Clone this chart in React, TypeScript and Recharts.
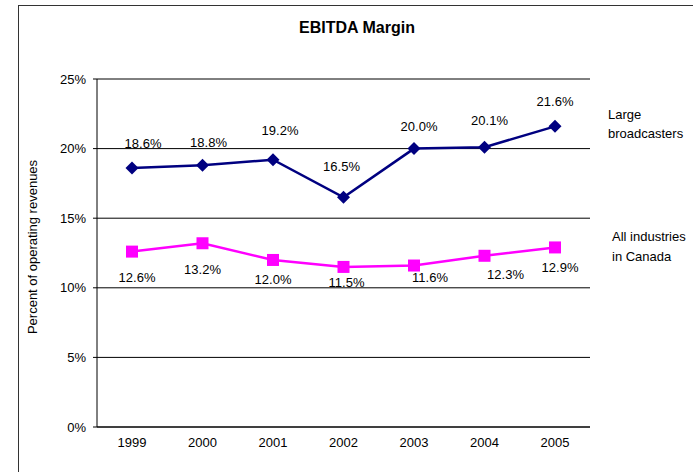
import React from 'react';
import { LineChart, Line, XAxis, YAxis, CartesianGrid, LabelList } from 'recharts';

const years = ['1999', '2000', '2001', '2002', '2003', '2004', '2005'];
const largeBroadcasters = [18.6, 18.8, 19.2, 16.5, 20.0, 20.1, 21.6];
const allIndustries = [12.6, 13.2, 12.0, 11.5, 11.6, 12.3, 12.9];
const yTicks = [0, 5, 10, 15, 20, 25];
const categoryEdges = [0, 1, 2, 3, 4, 5, 6, 7];

// hand-placed data label nudges (px), like the original chart
const largeLabelDx = [11, 6, 7, -2, 5, 5, 0];
const largeLabelDy = [-25, -23, -29, -31, -22, -27, -25];
const allLabelDx = [5, 0, 0, 3, 16, 21, 5];
const allLabelDy = [26, 26, 20, 16, 12, 19, 20];

const data = years.map((year, i) => ({
  year,
  large: largeBroadcasters[i],
  all: allIndustries[i],
}));

const FONT = '"Liberation Sans", Arial, sans-serif';
const NAVY = '#000080';
const PINK = '#FF00FF';

function Diamond({ cx, cy }: any) {
  if (cx == null || cy == null) return null;
  const r = 6.5;
  return <path d={`M${cx},${cy - r}L${cx + r},${cy}L${cx},${cy + r}L${cx - r},${cy}Z`} fill={NAVY} />;
}

function Square({ cx, cy }: any) {
  if (cx == null || cy == null) return null;
  return <rect x={cx - 6} y={cy - 6} width={12} height={12} fill={PINK} />;
}

const pctLabel = (dxs: number[], dys: number[]) => (props: any) => {
  const { x, y, value, index } = props;
  return (
    <text
      x={x + (dxs[index] ?? 0)}
      y={y + (dys[index] ?? 0)}
      textAnchor="middle"
      dominantBaseline="central"
      fontSize={13}
      fontFamily={FONT}
      fill="#000"
    >
      {Number(value).toFixed(1)}%
    </text>
  );
};

const axisTitle = (props: any) => {
  const vb = props.viewBox || { x: 0, y: 0, height: 0 };
  const x = vb.x + 32;
  const y = vb.y + vb.height / 2 - 6;
  return (
    <text
      x={x}
      y={y}
      transform={`rotate(-90 ${x} ${y})`}
      textAnchor="middle"
      dominantBaseline="central"
      fontSize={13}
      fontFamily={FONT}
      fill="#000"
    >
      Percent of operating revenues
    </text>
  );
};

export default function App() {
  const tickStyle = { fill: '#000', fontSize: 13, fontFamily: FONT };
  return (
    <div
      style={{
        position: 'absolute',
        left: 0,
        top: 0,
        width: 693,
        height: 472,
        overflow: 'hidden',
        background: '#fff',
        fontFamily: FONT,
      }}
    >
      <div
        style={{
          position: 'absolute',
          left: 18,
          top: 5,
          width: 720,
          height: 520,
          borderLeft: '1.5px solid #333',
          borderTop: '1.5px solid #333',
          boxSizing: 'border-box',
        }}
      />
      <div
        style={{
          position: 'absolute',
          left: 18,
          width: 678,
          top: 19,
          lineHeight: '18px',
          textAlign: 'center',
          fontWeight: 'bold',
          fontSize: 16,
        }}
      >
        EBITDA Margin
      </div>
      <div style={{ position: 'absolute', left: 0, top: 0 }}>
        <LineChart width={693} height={472} data={data} margin={{ top: 79, right: 103, bottom: 15, left: 0 }}>
          <CartesianGrid vertical={false} stroke="#000" strokeWidth={1} />
          <XAxis
            xAxisId="edges"
            type="number"
            domain={[0, 7]}
            ticks={categoryEdges}
            allowDataOverflow
            height={0}
            tick={false}
            axisLine={false}
            tickSize={4}
            tickLine={{ stroke: '#000' }}
          />
          <XAxis
            dataKey="year"
            padding={{ left: 35, right: 35 }}
            height={30}
            tickLine={false}
            tickMargin={5}
            axisLine={{ stroke: '#000' }}
            tick={tickStyle}
            interval={0}
          />
          <YAxis
            width={97}
            domain={[0, 25]}
            ticks={yTicks}
            tickFormatter={(v) => `${v}%`}
            tickSize={4}
            tickMargin={7}
            tick={tickStyle}
            tickLine={{ stroke: '#000' }}
            axisLine={{ stroke: '#000' }}
            label={{ content: axisTitle }}
          />
          <YAxis
            yAxisId="r"
            orientation="right"
            width={0}
            domain={[0, 25]}
            tick={false}
            tickLine={false}
            axisLine={{ stroke: '#808080', strokeWidth: 1.5 }}
          />
          <Line
            dataKey="large"
            stroke={NAVY}
            strokeWidth={2.5}
            dot={<Diamond />}
            activeDot={false}
            isAnimationActive={false}
          >
            <LabelList dataKey="large" content={pctLabel(largeLabelDx, largeLabelDy)} />
          </Line>
          <Line
            dataKey="all"
            stroke={PINK}
            strokeWidth={2.5}
            dot={<Square />}
            activeDot={false}
            isAnimationActive={false}
          >
            <LabelList dataKey="all" content={pctLabel(allLabelDx, allLabelDy)} />
          </Line>
        </LineChart>
      </div>
      <div style={{ position: 'absolute', left: 608, top: 105, fontSize: 13, lineHeight: '19px' }}>
        Large
        <br />
        broadcasters
      </div>
      <div style={{ position: 'absolute', left: 612, top: 227, fontSize: 13, lineHeight: '20px' }}>
        All industries
        <br />
        in Canada
      </div>
    </div>
  );
}
